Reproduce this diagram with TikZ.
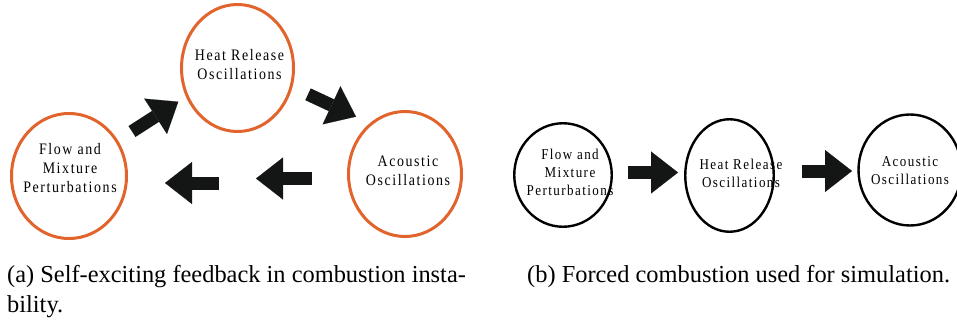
\documentclass[tikz,border=0pt]{standalone}
\usepackage{fontspec}
\setmainfont{Liberation Serif}
\newfontfamily\lblfont[LetterSpace=10,FakeStretch=0.87]{Liberation Serif}
\newfontfamily\lblfontb[LetterSpace=9.5,FakeStretch=0.87]{Liberation Serif}
\usetikzlibrary{shapes.geometric,arrows.meta}
\definecolor{ringorange}{RGB}{226,100,45}
\definecolor{arrowblack}{RGB}{20,22,22}
\begin{document}
\begin{tikzpicture}[x=1pt,y=-1pt,
  ringA/.style={ellipse,draw=ringorange,line width=3pt,inner sep=0pt},
  ringB/.style={ellipse,draw=black,line width=2.4pt,inner sep=0pt},
  lblA/.style={font=\lblfont\fontsize{16}{19}\selectfont,align=center,inner sep=0pt},
  lblB/.style={font=\lblfontb\fontsize{15}{18}\selectfont,align=center,inner sep=0pt},
  blockarrow/.style={draw=arrowblack,line width=13pt,line cap=butt,
    -{Triangle[length=27pt,width=42pt,line width=0.1pt]}},
  captxt/.style={font=\fontsize{24.4}{30}\selectfont,anchor=base west,inner sep=0pt}
]
\useasboundingbox (0,0) rectangle (957,321);
% ---- panel (a)
\node[ringA,minimum width=112pt,minimum height=127pt] (heatA) at (237.5,68) {};
\node[ringA,minimum width=115pt,minimum height=125pt] (flowA) at (69,176) {};
\node[ringA,minimum width=113pt,minimum height=125pt] (acouA) at (405,174) {};
\node[lblA] (heatAt) at (239.5,65) {Heat Release\\Oscillations};
\node[lblA] (flowAt) at (70,168.5) {Flow and\\Mixture\\Perturbations};
\node[lblA] (acouAt) at (408,170.5) {Acoustic\\Oscillations};
\coordinate (a1s) at (132,131.5); \coordinate (a1e) at (178.3,101.7);
\coordinate (a2s) at (308,94.3);  \coordinate (a2e) at (356,116.7);
\coordinate (a3s) at (312,178.5); \coordinate (a3e) at (256,178.5);
\coordinate (a4s) at (219,183);   \coordinate (a4e) at (165,183);
\draw[blockarrow] (a1s) -- (a1e);
\draw[blockarrow] (a2s) -- (a2e);
\draw[blockarrow] (a3s) -- (a3e);
\draw[blockarrow] (a4s) -- (a4e);
% ---- panel (b)
\node[ringB,minimum width=97.5pt,minimum height=103.5pt] (flowB) at (563,175) {};
\node[ringB,minimum width=88.5pt,minimum height=112.5pt] (heatB) at (729.5,175.5) {};
\node[ringB,minimum width=103pt,minimum height=111pt] (acouB) at (910,170) {};
\node[lblB] (flowBt) at (570,172.7) {Flow and\\Mixture\\Perturbations};
\node[lblB] (heatBt) at (741,173) {Heat Release\\Oscillations};
\node[lblB] (acouBt) at (910,171) {Acoustic\\Oscillations};
\coordinate (b1s) at (628,172.5); \coordinate (b1e) at (678,172.5);
\coordinate (b2s) at (802,171);   \coordinate (b2e) at (852,171);
\draw[blockarrow] (b1s) -- (b1e);
\draw[blockarrow] (b2s) -- (b2e);
% ---- captions
\node[captxt] (capa1) at (7,282) {(a) Self-exciting feedback in combustion insta-};
\node[captxt] (capa2) at (7,312) {bility.};
\node[captxt] (capb) at (527,282) {(b) Forced combustion used for simulation.};
\end{tikzpicture}
\end{document}
